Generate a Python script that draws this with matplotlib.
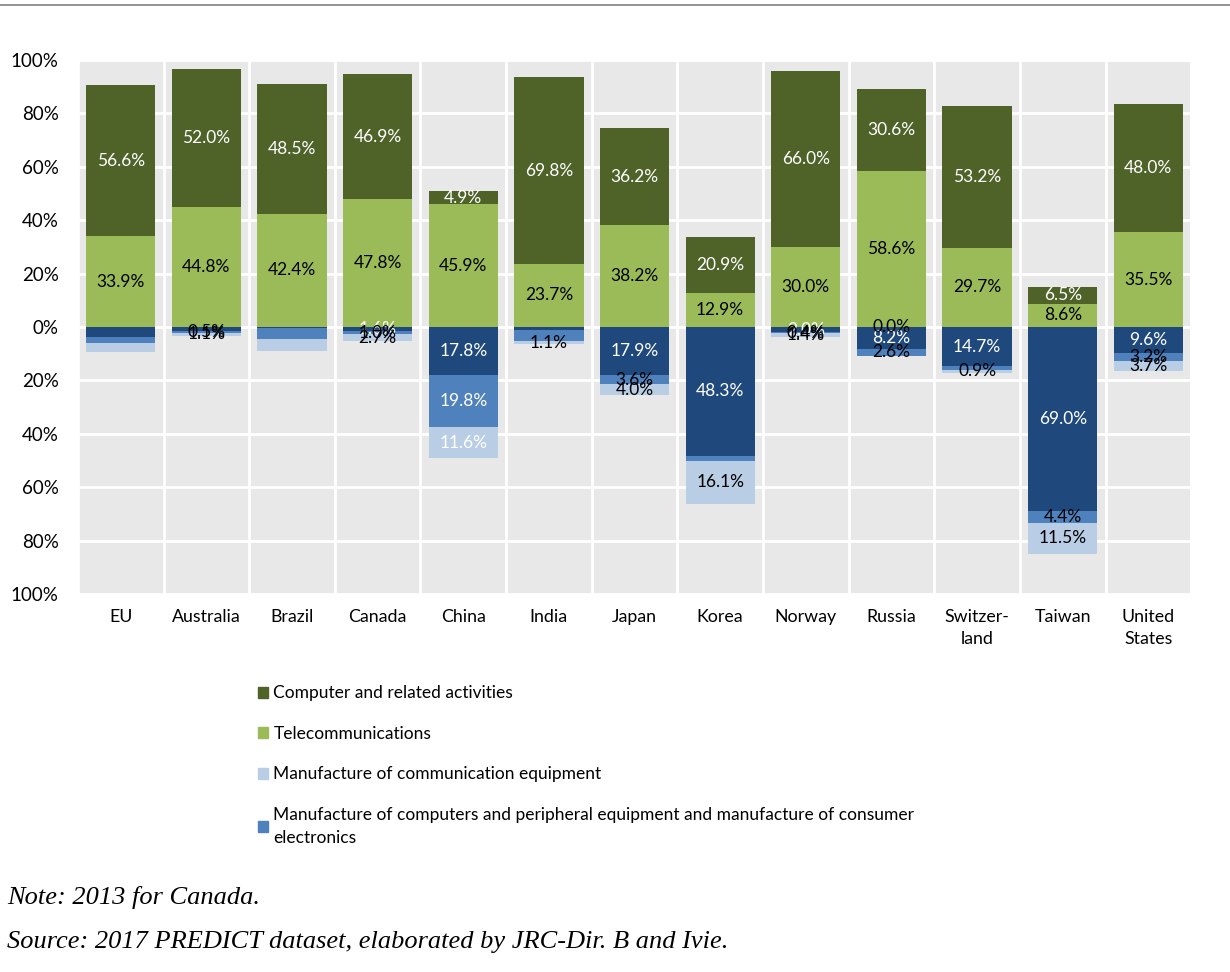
import numpy as np
import matplotlib
matplotlib.use('Agg')
from matplotlib import pyplot as plt
from matplotlib.patches import Patch
from matplotlib.ticker import FuncFormatter

plt.rcParams['font.family'] = ['Lato', 'DejaVu Sans']

countries = ['EU', 'Australia', 'Brazil', 'Canada', 'China', 'India', 'Japan', 'Korea',
             'Norway', 'Russia', 'Switzer-\nland', 'Taiwan', 'United\nStates']

# positive side (share, %)
computer = [56.6, 52.0, 48.5, 46.9, 4.9, 69.8, 36.2, 20.9, 66.0, 30.6, 53.2, 6.5, 48.0]
telecom = [33.9, 44.8, 42.4, 47.8, 45.9, 23.7, 38.2, 12.9, 30.0, 58.6, 29.7, 8.6, 35.5]
# negative side (share, %), drawn downwards
components = [3.9, 1.6, 0.3, 1.6, 17.8, 1.2, 17.9, 48.3, 2.0, 8.2, 14.7, 69.0, 9.6]
computers_mfg = [2.2, 0.5, 4.2, 1.0, 19.8, 4.2, 3.6, 1.8, 0.4, 2.6, 1.5, 4.4, 3.2]
comm_equip = [3.4, 1.1, 4.6, 2.7, 11.6, 1.1, 4.0, 16.1, 1.4, 0.0, 0.9, 11.5, 3.7]

# data label colours per point ('' = no label)
lab_computer = ['w'] * 13
lab_telecom = ['k'] * 13
lab_components = ['', '', '', 'w', 'w', '', 'w', 'w', 'w', 'w', 'w', 'w', 'w']
lab_computers_mfg = ['', 'k', '', 'k', 'w', '', 'k', '', 'k', 'k', '', 'k', 'k']
lab_comm_equip = ['', 'k', '', 'k', 'w', 'k', 'k', 'k', 'k', 'k', 'k', 'k', 'k']

c_computer = '#4F6228'
c_telecom = '#9BBB59'
c_components = '#1F497D'
c_computers_mfg = '#4F81BD'
c_comm_equip = '#B9CDE5'

fig = plt.figure(figsize=(12.3, 9.72), dpi=100)
ax = fig.add_axes([0.0634, 0.3889, 0.905, 0.5494])
ax.set_facecolor('#E8E8E8')

x = np.arange(len(countries))
w = 0.81


def add_labels(vals, bottoms, cols, sign):
    for i, (v, b, c) in enumerate(zip(vals, bottoms, cols)):
        if c == '':
            continue
        y = 0 if v == 0 else sign * (b + v / 2)
        ax.text(x[i], y, f'{v:.1f}%', ha='center', va='center', fontsize=12.5,
                color='white' if c == 'w' else 'black', zorder=5)


telecom = np.array(telecom)
computer = np.array(computer)
components = np.array(components)
computers_mfg = np.array(computers_mfg)
comm_equip = np.array(comm_equip)

ax.bar(x, telecom, w, color=c_telecom, zorder=3)
ax.bar(x, computer, w, bottom=telecom, color=c_computer, zorder=3)
ax.bar(x, -components, w, color=c_components, zorder=3)
ax.bar(x, -computers_mfg, w, bottom=-components, color=c_computers_mfg, zorder=3)
ax.bar(x, -comm_equip, w, bottom=-(components + computers_mfg), color=c_comm_equip, zorder=3)

add_labels(telecom, np.zeros(13), lab_telecom, 1)
add_labels(computer, telecom, lab_computer, 1)
add_labels(components, np.zeros(13), lab_components, -1)
add_labels(computers_mfg, components, lab_computers_mfg, -1)
add_labels(comm_equip, components + computers_mfg, lab_comm_equip, -1)

ax.set_xlim(-0.5, len(countries) - 0.5)
ax.set_ylim(-100, 100)
ax.set_yticks(np.arange(-100, 101, 20))
ax.yaxis.set_major_formatter(FuncFormatter(lambda v, p: f'{abs(v):.0f}%'))
ax.set_xticks(x)
ax.set_xticklabels(countries, fontsize=12.8, linespacing=1.45)
ax.tick_params(axis='y', length=0, pad=14, labelsize=13.5)
ax.tick_params(axis='x', length=0, pad=11)
ax.set_xticks(np.arange(-0.5, len(countries), 1), minor=True)
ax.grid(axis='y', color='white', linewidth=2, zorder=1)
ax.grid(axis='x', which='minor', color='white', linewidth=2, zorder=1)
ax.grid(axis='x', which='major', visible=False)
ax.tick_params(axis='x', which='minor', length=0)
for s in ax.spines.values():
    s.set_visible(False)

handles = [Patch(color=c_computer), Patch(color=c_telecom), Patch(color=c_comm_equip),
           Patch(color=c_computers_mfg)]
labels = ['Computer and related activities', 'Telecommunications',
          'Manufacture of communication equipment',
          'Manufacture of computers and peripheral equipment and manufacture of consumer\nelectronics']
leg = fig.legend(handles, labels, loc='upper left', bbox_to_anchor=(0.2025, 0.304), frameon=False,
                 fontsize=12.5, handlelength=0.6, handleheight=0.6, handletextpad=0.3,
                 labelspacing=1.42, borderpad=0)
for t in leg.get_texts():
    t.set_linespacing(1.5)

fig.add_artist(plt.Line2D([0, 1], [0.995, 0.995], color='#808080', linewidth=1.2))
fig.text(0.006, 0.077, 'Note: 2013 for Canada.', fontsize=19, style='italic',
         family='Liberation Serif', va='center')
fig.text(0.006, 0.031, 'Source: 2017 PREDICT dataset, elaborated by JRC-Dir. B and Ivie.',
         fontsize=19, style='italic', family='Liberation Serif', va='center')

fig.savefig('out.png', dpi=100)
